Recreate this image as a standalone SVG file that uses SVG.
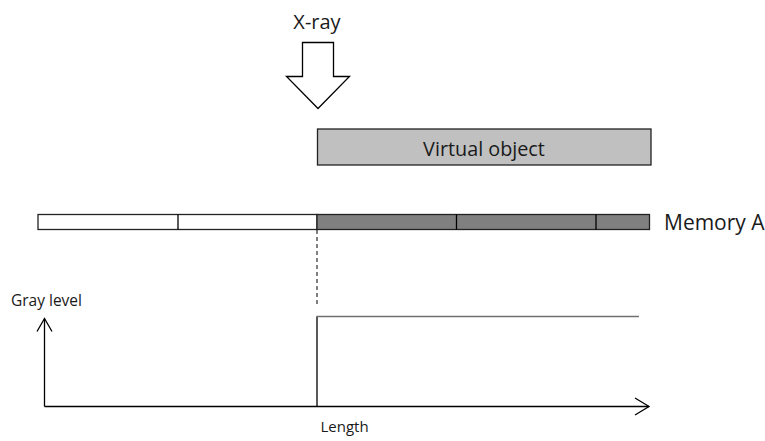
<svg xmlns="http://www.w3.org/2000/svg" width="765" height="441" viewBox="0 0 765 441">
  <style>
    text { font-family: "Open Sans", "Liberation Sans", sans-serif; fill: #1a1a1a; }
    .ln { stroke: #000; stroke-width: 1.3; fill: none; }
  </style>
  <rect width="765" height="441" fill="#fff"/>

  <!-- X-ray beam arrow -->
  <g id="xray">
    <text x="317" y="28.5" font-size="20" text-anchor="middle">X-ray</text>
    <polygon points="302.5,42.5 333.5,42.5 333.5,76.5 349.5,76.5 318,108.5 286.5,76.5 302.5,76.5" fill="#fff" stroke="#000" stroke-width="1.3"/>
  </g>

  <!-- virtual object block -->
  <g id="virtual-object">
    <rect x="317.5" y="129" width="333.5" height="36" fill="#c0c0c0" stroke="#222" stroke-width="1.3"/>
    <text x="484" y="155.5" font-size="19.8" text-anchor="middle">Virtual object</text>
  </g>

  <!-- memory A cells -->
  <g id="memory-a">
    <rect x="38" y="214.5" width="279" height="15" fill="#fff" stroke="#222" stroke-width="1.3"/>
    <rect x="317" y="214.5" width="332.5" height="15" fill="#808080" stroke="#222" stroke-width="1.3"/>
    <line class="ln" x1="178" y1="214.5" x2="178" y2="229.5"/>
    <line class="ln" x1="456.5" y1="214.5" x2="456.5" y2="229.5"/>
    <line class="ln" x1="596" y1="214.5" x2="596" y2="229.5"/>
    <text x="664" y="230" font-size="21">Memory A</text>
  </g>

  <!-- gray level profile plot -->
  <g id="plot">
    <text x="11" y="306" font-size="15.5">Gray level</text>
    <text x="320.5" y="432" font-size="15">Length</text>
  </g>

  <g id="connectors">
    <line x1="317" y1="230" x2="317" y2="305" stroke="#000" stroke-width="1" stroke-dasharray="4,3"/>
    <!-- axes -->
    <line class="ln" x1="44.5" y1="406.5" x2="44.5" y2="318.5"/>
    <polyline class="ln" points="37,331.5 44.5,318.5 52,331.5"/>
    <line class="ln" x1="44.5" y1="406.5" x2="649" y2="406.5"/>
    <polyline class="ln" points="635,398 649,406.5 635,415"/>
    <!-- step profile -->
    <line class="ln" x1="317" y1="406.5" x2="317" y2="316.5"/>
    <line x1="316.5" y1="316.5" x2="639" y2="316.5" stroke="#707070" stroke-width="1.5"/>
  </g>
</svg>
